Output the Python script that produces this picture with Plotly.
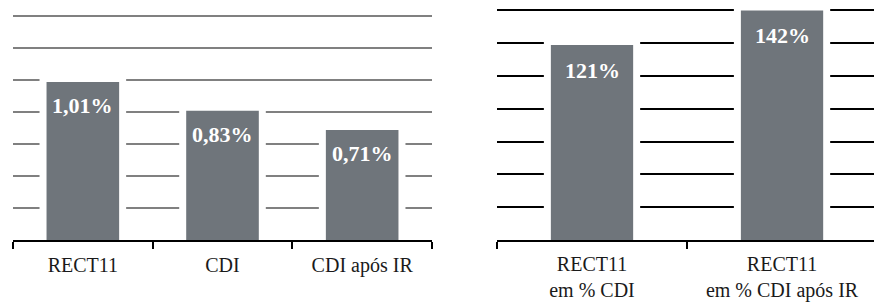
import plotly.graph_objects as go

# Left chart data
left_cats = ["RECT11", "CDI", "CDI após IR"]
left_vals = [1.01, 0.83, 0.71]
left_text = ["1,01%", "0,83%", "0,71%"]

# Right chart data
right_cats = ["RECT11<br>em % CDI", "RECT11<br>em % CDI após IR"]
right_vals = [121, 142]
right_text = ["121%", "142%"]

BAR = "#6f757b"
FONT = "Liberation Serif"

# bars start slightly below the axis so their white outline is hidden at the bottom
PAD_L = 0.04
PAD_R = 4

fig = go.Figure()
fig.add_trace(go.Bar(
    x=left_cats, y=[v + PAD_L for v in left_vals], base=-PAD_L, width=0.57,
    marker=dict(color=BAR, line=dict(color="white", width=7)),
    xaxis="x", yaxis="y", hoverinfo="skip", showlegend=False))
fig.add_trace(go.Bar(
    x=right_cats, y=[v + PAD_R for v in right_vals], base=-PAD_R, width=0.47,
    marker=dict(color=BAR, line=dict(color="white", width=7)),
    xaxis="x2", yaxis="y2", hoverinfo="skip", showlegend=False))

annotations = []
for c, v, t in zip(left_cats, left_vals, left_text):
    annotations.append(dict(x=c, y=v, xref="x", yref="y", text=t,
                            showarrow=False, yanchor="top", yshift=-13,
                            font=dict(family=FONT, size=22, color="white", weight="bold")))
for c, v, t in zip(right_cats, right_vals, right_text):
    annotations.append(dict(x=c, y=v, xref="x2", yref="y2", text=t,
                            showarrow=False, yanchor="top", yshift=-14,
                            font=dict(family=FONT, size=22, color="white", weight="bold")))

ydom = [62 / 302, 1]
axis_common = dict(type="category", showline=True, linecolor="black", linewidth=2,
                   ticks="outside", ticklen=7, tickwidth=2, tickcolor="black",
                   tickson="boundaries", showgrid=False, fixedrange=True,
                   tickfont=dict(family=FONT, size=20, color="#1a1a1a"))

fig.update_layout(
    width=874, height=302,
    margin=dict(l=0, r=0, t=0, b=0),
    paper_bgcolor="white", plot_bgcolor="white",
    bargap=0.4,
    xaxis=dict(domain=[13 / 874, 432 / 874], anchor="y", range=[-0.5, 2.5],
               ticklabelstandoff=6, **axis_common),
    yaxis=dict(domain=ydom, anchor="x", range=[0, 1.5], dtick=0.2, tick0=0,
               showgrid=True, gridcolor="#808080", gridwidth=1.5,
               zeroline=False, showticklabels=False, showline=False, fixedrange=True),
    xaxis2=dict(domain=[497 / 874, 1], anchor="y2", range=[-0.5, 1.484],
                ticklabelstandoff=5, **axis_common),
    yaxis2=dict(domain=ydom, anchor="x2", range=[0, 146.3], dtick=20, tick0=0,
                showgrid=True, gridcolor="black", gridwidth=2,
                zeroline=False, showticklabels=False, showline=False, fixedrange=True),
    annotations=annotations,
)

fig.write_html("out.html", post_script="document.body.style.margin='0';",
               config={"displayModeBar": False})
